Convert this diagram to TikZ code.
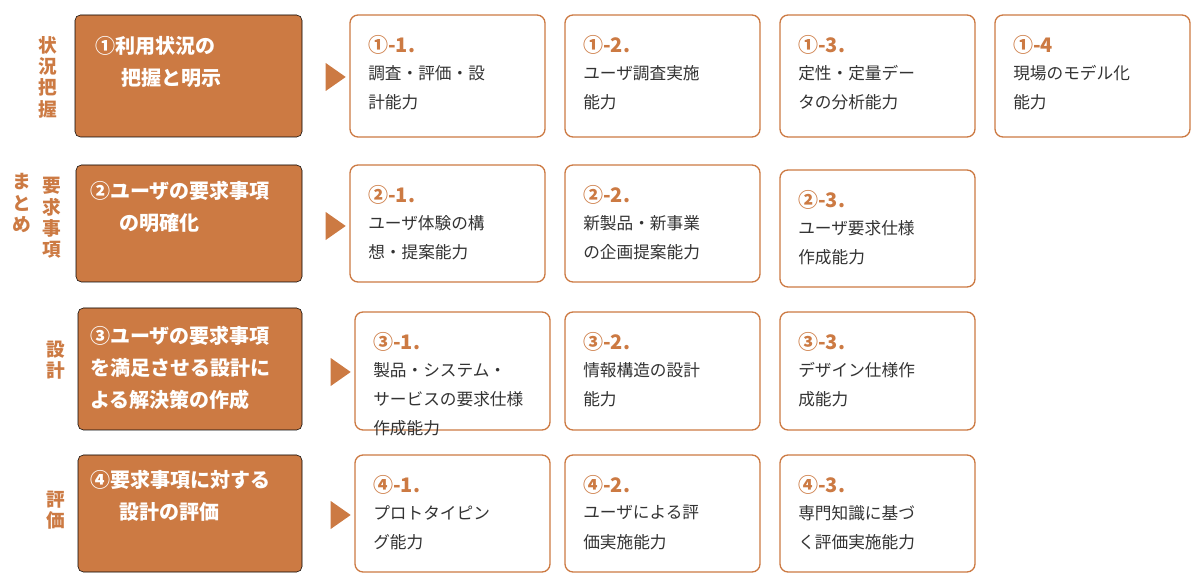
\documentclass[tikz,border=0pt]{standalone}
\usepackage{fontspec}
\setmainfont{Noto Sans CJK JP}
\usetikzlibrary{shapes.geometric}
\definecolor{org}{HTML}{CC7A43}
\definecolor{txt}{HTML}{333333}
\tikzset{
 card/.style={draw=org,line width=1pt,rounded corners=6pt,fill=white},
 obox/.style={fill=org,rounded corners=4pt},
 ttl/.style={anchor=west,text=org,font=\fontsize{15}{17}\selectfont\bfseries,inner sep=0},
 bdy/.style={anchor=north west,text=txt,font=\fontsize{12.5}{22}\selectfont,align=left,inner sep=0},
 wt/.style={anchor=west,text=white,font=\fontsize{15}{24}\selectfont\bfseries,align=left,inner sep=0},
 side/.style={text=org,font=\fontsize{14}{16}\selectfont\bfseries,align=center,inner sep=0},
 tri/.style={isosceles triangle,fill=org,minimum height=15pt,minimum width=15pt,isosceles triangle apex angle=70,inner sep=0},
}
\newcommand{\card}[6]{% name, x1,y1,x2,y2, title, body
}
\begin{document}
\begin{tikzpicture}[x=0.75pt,y=-0.75pt]
\useasboundingbox (0,0) rectangle (1200,584);
% side labels
\node[side] (s1) at (48,77) {状\\況\\把\\握};
\node[side] (s2a) at (52,218) {要\\求\\事\\項};
\node[side] (s2b) at (22,203) {ま\\と\\め};
\node[side] (s3) at (56,360) {設\\計};
\node[side] (s4) at (56,510) {評\\価};
% orange boxes
\draw[obox] (75,15) rectangle (302,137);
\node[wt] (o1) at (95,62) {①利用状況の\\\hspace{20pt}把握と明示};
\draw[obox] (76,165) rectangle (302,282);
\node[wt] (o2) at (90,207) {②ユーザの要求事項\\\hspace{22pt}の明確化};
\draw[obox] (78,308) rectangle (302,430);
\node[wt] (o3) at (90,368) {③ユーザの要求事項\\を満足させる設計に\\よる解決策の作成};
\draw[obox] (78,455) rectangle (302,572);
\node[wt] (o4) at (90,496) {④要求事項に対する\\\hspace{22pt}設計の評価};
% triangles
\node[tri] (t1) at (333,77) {};
\node[tri] (t2) at (333,226) {};
\node[tri] (t3) at (338,372) {};
\node[tri] (t4) at (338,515) {};
% cards
\newcommand{\crd}[7]{\draw[card] (#1,#2) rectangle (#3,#4);
 \node[ttl] (#7t) at (#1+18,#2+30) {#5};
 \node[bdy] (#7b) at (#1+18,#2+50) {#6};}
\crd{350}{15}{545}{137}{①-1.}{調査・評価・設\\計能力}{c11}
\crd{565}{15}{760}{137}{①-2.}{ユーザ調査実施\\能力}{c12}
\crd{780}{15}{975}{137}{①-3.}{定性・定量デー\\タの分析能力}{c13}
\crd{995}{15}{1190}{137}{①-4}{現場のモデル化\\能力}{c14}
\crd{350}{165}{545}{282}{②-1.}{ユーザ体験の構\\想・提案能力}{c21}
\crd{565}{165}{760}{282}{②-2.}{新製品・新事業\\の企画提案能力}{c22}
\crd{780}{170}{975}{287}{②-3.}{ユーザ要求仕様\\作成能力}{c23}
\crd{355}{312}{550}{430}{③-1.}{製品・システム・\\サービスの要求仕様\\作成能力}{c31}
\crd{565}{312}{760}{430}{③-2.}{情報構造の設計\\能力}{c32}
\crd{780}{312}{975}{430}{③-3.}{デザイン仕様作\\成能力}{c33}
\crd{355}{455}{550}{572}{④-1.}{プロトタイピン\\グ能力}{c41}
\crd{565}{455}{760}{572}{④-2.}{ユーザによる評\\価実施能力}{c42}
\crd{780}{455}{975}{572}{④-3.}{専門知識に基づ\\く評価実施能力}{c43}
\end{tikzpicture}
\end{document}
